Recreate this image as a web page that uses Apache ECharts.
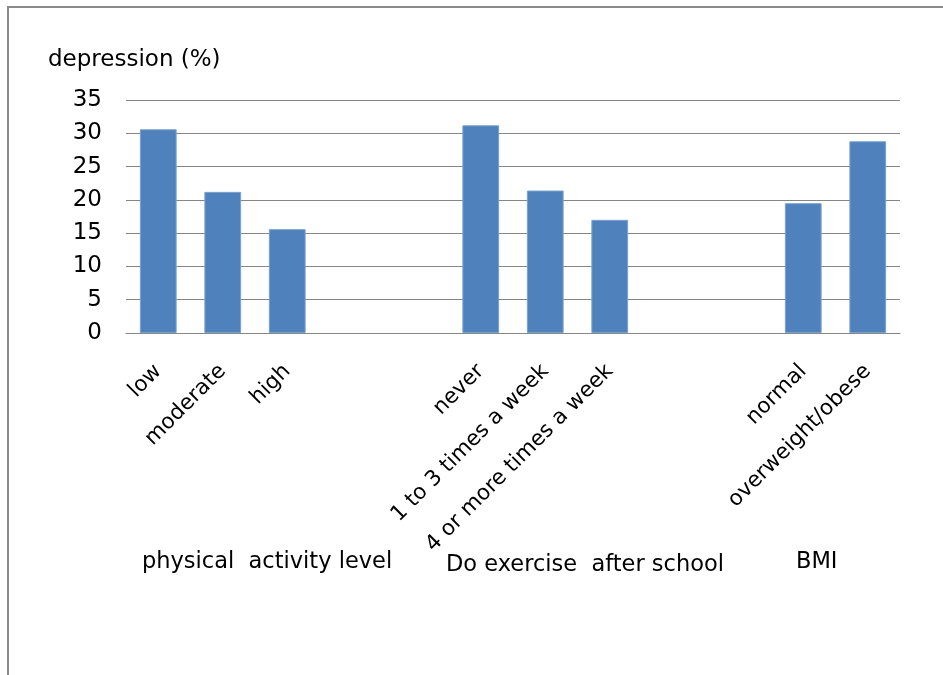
<!DOCTYPE html>
<html>
<head>
<meta charset="utf-8">
<script src="https://cdn.jsdelivr.net/npm/echarts@6/dist/echarts.min.js"></script>
<style>
  html, body { margin: 0; padding: 0; background: #fff; }
  #chart { width: 943px; height: 675px; }
</style>
</head>
<body>
<div id="chart"></div>
<script>
// Category slots; blank entries leave gaps between the three groups
const categories = [
  'low', 'moderate', 'high', ' ', '  ',
  'never', '1 to 3 times a week', '4 or more times a week', '   ', '    ',
  'normal', 'overweight/obese'
];
// Prevalence of depression (%) per category (null = gap)
const depression = [30.6, 21.2, 15.6, null, null, 31.2, 21.4, 17.0, null, null, 19.5, 28.8];
// Group captions shown below the rotated labels
const groupNames = ['physical  activity level', 'Do exercise  after school', 'BMI'];
const yTicks = { min: 0, max: 35, interval: 5 };

const FONT = '"DejaVu Sans"';
const chart = echarts.init(document.getElementById('chart'));

chart.setOption({
  animation: false,
  backgroundColor: '#ffffff',
  textStyle: { fontFamily: FONT, color: '#000' },
  grid: { left: 126, right: 43, top: 100, bottom: 342, containLabel: false },
  xAxis: {
    type: 'category',
    data: categories,
    axisLine: { show: true, lineStyle: { color: '#868686', width: 1 } },
    axisTick: { show: false },
    axisLabel: {
      interval: 0,
      rotate: 45,
      margin: 35,
      fontFamily: FONT,
      fontSize: 21.5,
      color: '#000'
    }
  },
  yAxis: {
    type: 'value',
    min: yTicks.min,
    max: yTicks.max,
    interval: yTicks.interval,
    axisLine: { show: false },
    axisTick: { show: false },
    splitLine: { lineStyle: { color: '#868686', width: 1 } },
    axisLabel: { margin: 24, fontFamily: FONT, fontSize: 23, color: '#000' }
  },
  series: [{
    type: 'bar',
    data: depression,
    barWidth: '57%',
    itemStyle: { color: '#4F81BD', borderColor: '#7AA0CD', borderWidth: 1 }
  }],
  graphic: [
    // Frame lines along the top and left edges
    { type: 'rect', shape: { x: 7, y: 6, width: 936, height: 2 }, style: { fill: '#8a8a8a' } },
    { type: 'rect', shape: { x: 7, y: 6, width: 2, height: 669 }, style: { fill: '#8a8a8a' } },
    { type: 'text', left: 48, top: 49, style: { text: 'depression (%)', font: '23px ' + FONT, fill: '#000' } },
    { type: 'text', left: 142, top: 551, style: { text: groupNames[0], font: '22.5px ' + FONT, fill: '#000' } },
    { type: 'text', left: 446, top: 554, style: { text: groupNames[1], font: '22.5px ' + FONT, fill: '#000' } },
    { type: 'text', left: 796, top: 551, style: { text: groupNames[2], font: '22.5px ' + FONT, fill: '#000' } }
  ]
});
</script>
</body>
</html>
